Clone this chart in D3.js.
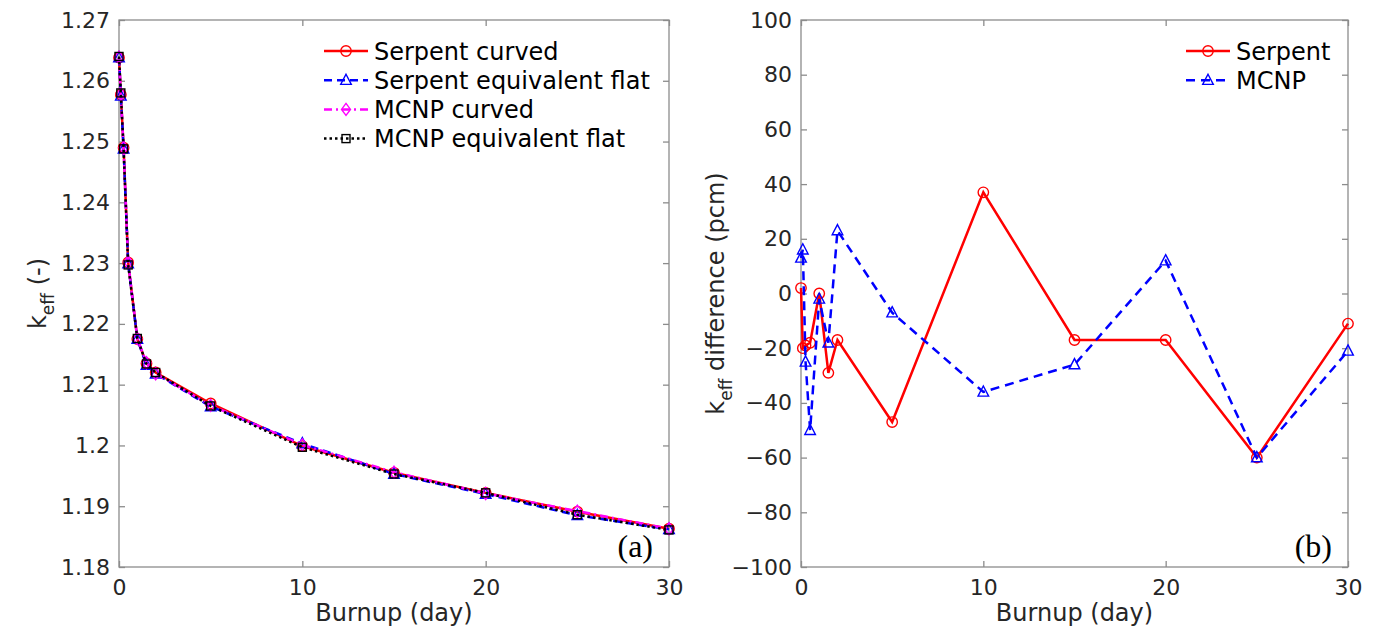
<!DOCTYPE html>
<html>
<head>
<meta charset="utf-8">
<script src="https://cdn.jsdelivr.net/npm/d3@7"></script>
<style>
  body { margin: 0; background: #fff; }
  svg { font-family: "DejaVu Sans", sans-serif; }
</style>
</head>
<body>
<svg width="1383" height="631"></svg>
<script>
// burnup steps (day)
var days = [0, 0.1, 0.25, 0.5, 1, 1.5, 2, 5, 10, 15, 20, 25, 30];

// panel (a): keff
var serpentCurved = [1.2638, 1.2577, 1.2490, 1.2301, 1.2175, 1.2135, 1.2120, 1.2069, 1.1999, 1.1955, 1.1922, 1.1891, 1.1863];
var serpentFlat   = [1.2638, 1.2575, 1.2488, 1.2299, 1.2175, 1.2132, 1.2118, 1.2064, 1.2003, 1.1953, 1.1920, 1.1885, 1.1862];
var mcnpCurved    = [1.2639, 1.2578, 1.2490, 1.2302, 1.2176, 1.2136, 1.2118, 1.2066, 1.2001, 1.1956, 1.1921, 1.1892, 1.1863];
var mcnpFlat      = [1.2640, 1.2580, 1.2488, 1.2297, 1.2176, 1.2134, 1.2120, 1.2065, 1.1997, 1.1953, 1.1922, 1.1886, 1.1861];

// panel (b): keff difference (pcm)
var serpentDiff = [2, -20, -19, -18, 0, -29, -17, -47, 37, -17, -17, -60, -11];
var mcnpDiff    = [13, 16, -25, -50, -2, -18, 23, -7, -36, -26, 12, -60, -21];

var xTicks = [0, 10, 20, 30];
var yTicksA = [1.18, 1.19, 1.2, 1.21, 1.22, 1.23, 1.24, 1.25, 1.26, 1.27];
var yTicksB = [-100, -80, -60, -40, -20, 0, 20, 40, 60, 80, 100];

var svg = d3.select('svg');
var axisColor = '#8c8c8c';
var textColor = '#262626';
var plotTop = 20, plotBottom = 567;

var symbols = {
	circle: function (g) {
		g.append('circle').attr('r', 5.2);
	},
	triangle: function (g) {
		g.append('path').attr('d', 'M0,-6L5.3,4.2L-5.3,4.2Z');
	},
	diamond: function (g) {
		g.append('path').attr('d', 'M0,-6L4.5,0L0,6L-4.5,0Z');
	},
	square: function (g) {
		g.append('rect').attr('x', -4).attr('y', -4).attr('width', 8).attr('height', 8);
	}
};

var drawPanel = function (opt) {
	var x = d3.scaleLinear().domain([0, 30]).range([opt.left, opt.right]);
	var y = d3.scaleLinear().domain(opt.yDomain).range([plotBottom, plotTop]);
	var g = svg.append('g');

	// box
	g.append('rect')
		.attr('x', opt.left).attr('y', plotTop)
		.attr('width', opt.right - opt.left).attr('height', plotBottom - plotTop)
		.attr('fill', 'none').attr('stroke', axisColor).attr('stroke-width', 1.3);

	g.append('g')
		.attr('transform', 'translate(0,' + plotBottom + ')')
		.call(d3.axisBottom(x).tickValues(xTicks).tickSizeInner(-6).tickSizeOuter(0).tickPadding(12));
	g.append('g')
		.attr('transform', 'translate(0,' + plotTop + ')')
		.call(d3.axisTop(x).tickValues(xTicks).tickSizeInner(-6).tickSizeOuter(0).tickFormat(''));
	g.append('g')
		.attr('transform', 'translate(' + opt.left + ',0)')
		.call(d3.axisLeft(y).tickValues(opt.yTicks).tickSizeInner(-6).tickSizeOuter(0).tickPadding(9).tickFormat(opt.fmt));
	g.append('g')
		.attr('transform', 'translate(' + opt.right + ',0)')
		.call(d3.axisRight(y).tickValues(opt.yTicks).tickSizeInner(-6).tickSizeOuter(0).tickFormat(''));

	g.selectAll('.domain').remove();
	g.selectAll('.tick line').attr('stroke', axisColor).attr('stroke-width', 1.3);
	g.selectAll('.tick text').attr('fill', textColor).style('font-size', '22px')
		.style('font-family', '"DejaVu Sans", sans-serif');

	// labels
	g.append('text')
		.attr('x', (opt.left + opt.right) / 2).attr('y', 621)
		.attr('text-anchor', 'middle').attr('fill', textColor).style('font-size', '24px')
		.text('Burnup (day)');
	var yl = g.append('text')
		.attr('transform', 'translate(' + opt.yLabelX + ',' + ((plotTop + plotBottom) / 2) + ') rotate(-90)')
		.attr('text-anchor', 'middle').attr('fill', textColor).style('font-size', '24px');
	yl.append('tspan').text('k');
	yl.append('tspan').attr('dy', 8).style('font-size', '17px').text('eff');
	yl.append('tspan').attr('dy', -8).text(opt.yLabelRest);

	g.append('text')
		.attr('x', opt.right - 16).attr('y', 557)
		.attr('text-anchor', 'end').attr('fill', '#000')
		.style('font-family', '"Liberation Serif", "Times New Roman", serif').style('font-size', '32px')
		.text(opt.tag);

	// series
	var line = d3.line().x(function (d) { return x(d[0]); }).y(function (d) { return y(d[1]); });
	opt.series.forEach(function (s) {
		var pts = days.map(function (d, i) { return [d, s.values[i]]; });
		g.append('path').datum(pts)
			.attr('d', line).attr('fill', 'none')
			.attr('stroke', s.color).attr('stroke-width', 2.5)
			.attr('stroke-dasharray', s.dash);
		pts.forEach(function (p) {
			var m = g.append('g')
				.attr('transform', 'translate(' + x(p[0]) + ',' + y(p[1]) + ')')
				.attr('fill', 'none').attr('stroke', s.color).attr('stroke-width', 1.4);
			symbols[s.marker](m);
		});
	});

	// legend
	opt.series.forEach(function (s, i) {
		var ly = opt.legY + i * 29.2;
		g.append('line')
			.attr('x1', opt.legX).attr('x2', opt.legX + 44)
			.attr('y1', ly).attr('y2', ly)
			.attr('stroke', s.color).attr('stroke-width', 2.5)
			.attr('stroke-dasharray', s.dash);
		var m = g.append('g')
			.attr('transform', 'translate(' + (opt.legX + 22) + ',' + ly + ')')
			.attr('fill', 'none').attr('stroke', s.color).attr('stroke-width', 1.4);
		symbols[s.marker](m);
		g.append('text')
			.attr('x', opt.legX + 50).attr('y', ly + 8.5)
			.attr('fill', '#000').style('font-size', '24px')
			.text(s.name);
	});
};

drawPanel({
	left: 119, right: 669,
	yDomain: [1.18, 1.27], yTicks: yTicksA,
	fmt: d3.format('~g'),
	yLabelX: 46, yLabelRest: ' (-)',
	tag: '(a)',
	legX: 324, legY: 51,
	series: [
		{ name: 'Serpent curved', values: serpentCurved, color: '#ff0000', dash: null, marker: 'circle' },
		{ name: 'Serpent equivalent flat', values: serpentFlat, color: '#0000ff', dash: '8,5', marker: 'triangle' },
		{ name: 'MCNP curved', values: mcnpCurved, color: '#ff00ff', dash: '8,4,2,4', marker: 'diamond' },
		{ name: 'MCNP equivalent flat', values: mcnpFlat, color: '#000000', dash: '2.5,3', marker: 'square' }
	]
});

drawPanel({
	left: 801, right: 1348,
	yDomain: [-100, 100], yTicks: yTicksB,
	fmt: d3.format('d'),
	yLabelX: 724, yLabelRest: ' difference (pcm)',
	tag: '(b)',
	legX: 1186, legY: 51,
	series: [
		{ name: 'Serpent', values: serpentDiff, color: '#ff0000', dash: null, marker: 'circle' },
		{ name: 'MCNP', values: mcnpDiff, color: '#0000ff', dash: '9,6', marker: 'triangle' }
	]
});
</script>
</body>
</html>
